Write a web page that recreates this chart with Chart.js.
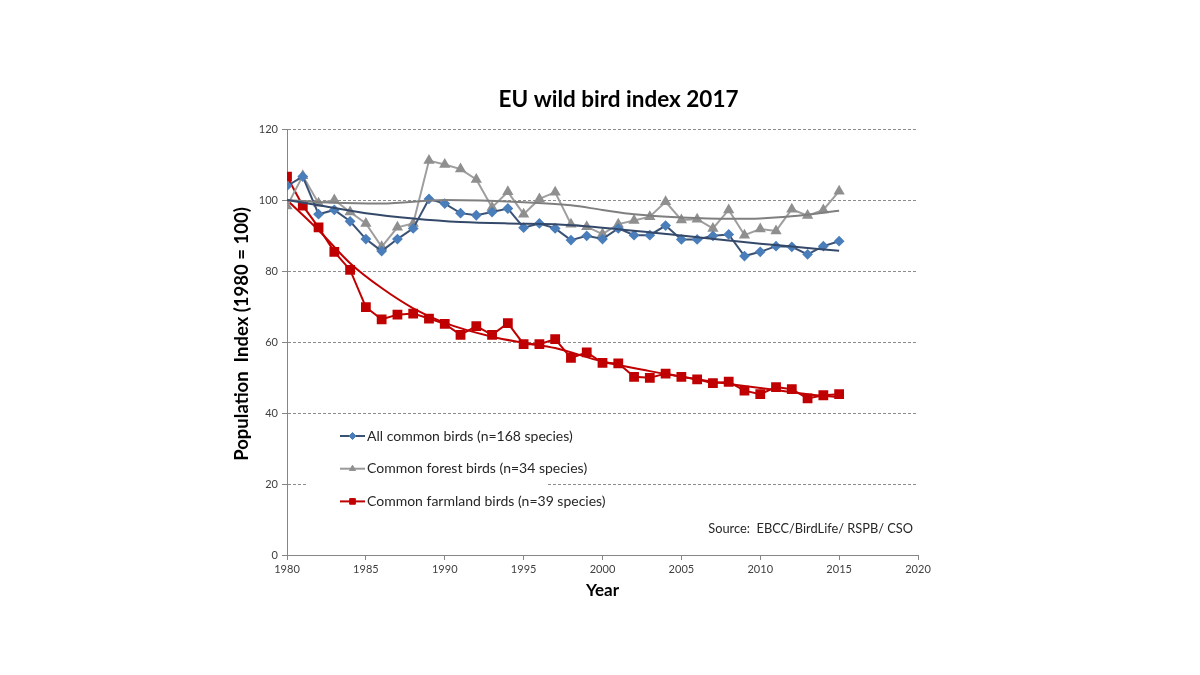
<!DOCTYPE html>
<html>
<head>
<meta charset="utf-8">
<title>EU wild bird index 2017</title>
<script src="https://cdn.jsdelivr.net/npm/chart.js@4.4.1/dist/chart.umd.min.js"></script>
<style>
  html, body { margin: 0; padding: 0; background: #fff; }
  canvas { display: block; }
</style>
</head>
<body>
<canvas id="chart" width="1200" height="675"></canvas>
<script>
// Jahre und Indexwerte (1980 = 100)
const years = [1980, 1981, 1982, 1983, 1984, 1985, 1986, 1987, 1988, 1989,
               1990, 1991, 1992, 1993, 1994, 1995, 1996, 1997, 1998, 1999,
               2000, 2001, 2002, 2003, 2004, 2005, 2006, 2007, 2008, 2009,
               2010, 2011, 2012, 2013, 2014, 2015];

const allBirds = [104.0, 106.6, 96.0, 97.2, 94.0, 89.0, 85.6, 89.0, 92.0, 100.3,
                  99.0, 96.3, 95.7, 96.6, 97.6, 92.2, 93.4, 92.0, 88.7, 89.9,
                  89.0, 92.0, 90.1, 90.1, 92.8, 88.9, 88.9, 89.9, 90.3, 84.2,
                  85.4, 87.0, 86.8, 84.7, 87.0, 88.4];

const forestBirds = [98.3, 106.8, 99.1, 100.0, 96.6, 93.4, 86.8, 92.3, 93.4, 111.1,
                     110.0, 108.7, 105.8, 97.9, 102.3, 96.0, 100.3, 102.2, 93.2, 92.5,
                     90.4, 93.2, 94.2, 95.3, 99.5, 94.4, 94.6, 92.0, 97.2, 90.1,
                     91.8, 91.3, 97.4, 95.6, 97.2, 102.5];

const farmlandBirds = [106.6, 98.4, 92.3, 85.4, 80.3, 69.8, 66.4, 67.7, 68.0, 66.6,
                       65.1, 62.0, 64.5, 62.0, 65.3, 59.4, 59.4, 60.8, 55.5, 57.1,
                       54.1, 54.0, 50.2, 49.9, 51.1, 50.2, 49.5, 48.4, 48.8, 46.3,
                       45.3, 47.3, 46.7, 44.1, 45.0, 45.3];

const allTrendYears = [1980, 1982, 1985, 1988, 1991, 1994, 1997, 2000, 2005, 2008, 2010, 2012, 2015];
const allTrend = [100, 98.5, 96.3, 94.8, 93.8, 93.4, 93.2, 92.2, 90.0, 88.6, 87.7, 86.9, 85.7];

const forestTrendYears = [1980, 1983, 1986, 1990, 1995, 1998, 2000, 2002, 2005, 2008, 2010, 2012, 2015];
const forestTrend = [100, 99.2, 99.0, 100.0, 99.4, 98.5, 97.2, 96.0, 95.1, 94.7, 94.8, 95.4, 97.0];

const farmTrendYears = [1980, 1982, 1984, 1986, 1988, 1990, 1993, 1995, 1997, 2000, 2003, 2005, 2007, 2009, 2011, 2013, 2015];
const farmTrend = [100, 91.5, 82.2, 75.2, 69.5, 65.4, 61.5, 59.8, 58.3, 54.5, 51.8, 50.2, 48.8, 47.6, 46.5, 45.3, 44.5];

const seriesLabels = ['All common birds (n=168 species)',
                      'Common forest birds (n=34 species)',
                      'Common farmland birds (n=39 species)'];

const chartTitle = 'EU wild bird index 2017';
const yTitle = 'Population  Index (1980 = 100)';
const sourceText = 'Source:  EBCC/BirdLife/ RSPB/ CSO';

const FONT = 'Lato, "Open Sans", sans-serif';

function pts(xs, ys) {
    return xs.map((x, i) => ({ x: x, y: ys[i] }));
}

// Titel, Legende mit weissem Hintergrund und Quellenangabe
const extras = {
    id: 'extras',
    afterDatasetsDraw(chart) {
        const ctx = chart.ctx;
        const a = chart.chartArea;
        ctx.save();

        // Diagrammtitel
        ctx.fillStyle = '#000000';
        ctx.font = 'bold 22.5px ' + FONT;
        ctx.textAlign = 'center';
        ctx.textBaseline = 'middle';
        ctx.fillText(chartTitle, (a.left + a.right) / 2 + 16, a.top - 29);

        // Y-Achsentitel
        ctx.save();
        ctx.translate(a.left - 45, (a.top + a.bottom) / 2 - 8);
        ctx.rotate(-Math.PI / 2);
        ctx.font = 'bold 18.5px ' + FONT;
        ctx.fillText(yTitle, 0, 0);
        ctx.restore();

        // Legende
        ctx.fillStyle = '#ffffff';
        ctx.fillRect(a.left + 20, a.top + 290, 240, 96);

        const items = [
            { line: '#3a5274', fill: '#4a7ebb', style: 'rectRot', r: 3.5 },
            { line: '#999999', fill: '#8f8f8f', style: 'triangle', r: 3.5 },
            { line: '#c00000', fill: '#c00000', style: 'rect', r: 4 }
        ];
        ctx.font = '14px ' + FONT;
        ctx.textBaseline = 'middle';
        items.forEach((it, i) => {
            const y = a.top + 307 + i * 32.7;
            const x0 = a.left + 53;
            ctx.strokeStyle = it.line;
            ctx.lineWidth = 2;
            ctx.beginPath();
            ctx.moveTo(x0, y);
            ctx.lineTo(x0 + 25, y);
            ctx.stroke();
            ctx.fillStyle = it.fill;
            ctx.strokeStyle = it.fill;
            ctx.lineWidth = 1;
            Chart.helpers.drawPoint(ctx, { pointStyle: it.style, radius: it.r, rotation: 0, borderWidth: 1 }, x0 + 12.5, y);
            ctx.fillStyle = '#262626';
            ctx.textAlign = 'left';
            ctx.fillText(seriesLabels[i], x0 + 27, y);
        });

        // Quelle
        ctx.textAlign = 'right';
        ctx.fillStyle = '#262626';
        ctx.font = '12.8px ' + FONT;
        ctx.fillText(sourceText, a.right - 5, a.top + 400);
        ctx.restore();
    }
};

const ctx = document.getElementById('chart').getContext('2d');
const chart = new Chart(ctx, {
    type: 'line',
    data: {
        datasets: [
            {
                label: 'trend all',
                data: pts(allTrendYears, allTrend),
                borderColor: '#34496a',
                borderWidth: 2,
                pointRadius: 0,
                cubicInterpolationMode: 'monotone'
            },
            {
                label: 'trend forest',
                data: pts(forestTrendYears, forestTrend),
                borderColor: '#7f7f7f',
                borderWidth: 2,
                pointRadius: 0,
                cubicInterpolationMode: 'monotone'
            },
            {
                label: seriesLabels[0],
                data: pts(years, allBirds),
                borderColor: '#3a5274',
                backgroundColor: '#4a7ebb',
                pointBorderColor: '#4a7ebb',
                borderWidth: 2,
                pointStyle: 'rectRot',
                pointRadius: 4,
                tension: 0
            },
            {
                label: seriesLabels[1],
                data: pts(years, forestBirds),
                borderColor: '#9e9e9e',
                backgroundColor: '#8f8f8f',
                pointBorderColor: '#8f8f8f',
                borderWidth: 2,
                pointStyle: 'triangle',
                pointRadius: 4.5,
                tension: 0
            },
            {
                label: 'trend farmland',
                data: pts(farmTrendYears, farmTrend),
                borderColor: '#c00000',
                borderWidth: 2,
                pointRadius: 0,
                cubicInterpolationMode: 'monotone'
            },
            {
                label: seriesLabels[2],
                data: pts(years, farmlandBirds),
                borderColor: '#c00000',
                backgroundColor: '#c00000',
                pointBorderColor: '#c00000',
                borderWidth: 2,
                pointStyle: 'rect',
                pointRadius: 5.5,
                tension: 0
            }
        ]
    },
    options: {
        responsive: false,
        animation: false,
        devicePixelRatio: 1,
        layout: { padding: { left: 226, right: 282, top: 129, bottom: 70 } },
        plugins: {
            legend: { display: false },
            tooltip: { enabled: false },
            title: { display: false }
        },
        scales: {
            x: {
                type: 'linear',
                min: 1980,
                max: 2020,
                afterFit: s => { s.height = 50; },
                ticks: {
                    stepSize: 5,
                    color: '#404040',
                    font: { family: FONT, size: 11 },
                    padding: 3,
                    maxRotation: 0,
                    callback: v => String(v)
                },
                grid: {
                    drawOnChartArea: false,
                    tickLength: 5,
                    tickColor: '#868686'
                },
                border: { display: true, color: '#868686', width: 1 },
                title: {
                    display: true,
                    text: 'Year',
                    color: '#000000',
                    font: { family: FONT, size: 17, weight: 'bold' },
                    padding: { top: 4, bottom: 4 }
                }
            },
            y: {
                min: 0,
                max: 120,
                afterFit: s => { s.width = 61; },
                ticks: {
                    stepSize: 20,
                    color: '#404040',
                    font: { family: FONT, size: 11 },
                    padding: 4
                },
                grid: {
                    color: '#8c8c8c',
                    tickLength: 5,
                    tickColor: '#868686',
                    tickBorderDash: []
                },
                border: { display: true, color: '#868686', width: 1, dash: [3, 2] }
            }
        }
    },
    plugins: [extras]
});
</script>
</body>
</html>
